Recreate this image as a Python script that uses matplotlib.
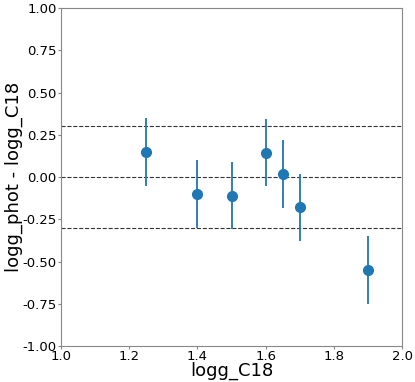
import numpy as np
import matplotlib
matplotlib.use('Agg')
import matplotlib.pyplot as plt

# data
logg_c18 = [1.25, 1.40, 1.50, 1.60, 1.65, 1.70, 1.90]
dlogg = [0.148, -0.10, -0.11, 0.145, 0.017, -0.18, -0.55]
dlogg_err = [0.20, 0.20, 0.20, 0.20, 0.20, 0.20, 0.20]
ref_lines = [0.3, 0.0, -0.3]
yticks = [-1.0, -0.75, -0.5, -0.25, 0.0, 0.25, 0.5, 0.75, 1.0]

fig = plt.figure(figsize=(4.15, 3.82), dpi=100)
ax = fig.add_axes([0.147, 0.094, 0.822, 0.885])

for yl in ref_lines:
    ax.axhline(yl, color='k', ls='--', lw=0.8, alpha=0.8)

ax.errorbar(logg_c18, dlogg, yerr=dlogg_err, fmt='o', color='#1f77b4',
            ms=7, elinewidth=1.3, capsize=0)

ax.set_xlim(1.0, 2.0)
ax.set_ylim(-1.0, 1.0)
ax.set_xticks([1.0, 1.2, 1.4, 1.6, 1.8, 2.0])
ax.set_yticks(yticks)
ax.set_yticklabels(['%.2f' % v for v in yticks])
ax.tick_params(labelsize=9.5, length=2, pad=1, color='#888888')
for s in ax.spines.values():
    s.set_color('#888888')
ax.set_xlabel('logg_C18', fontsize=13, labelpad=-1)
ax.set_ylabel('logg_phot - logg_C18', fontsize=13, labelpad=0)

fig.savefig('out.png', dpi=100)
